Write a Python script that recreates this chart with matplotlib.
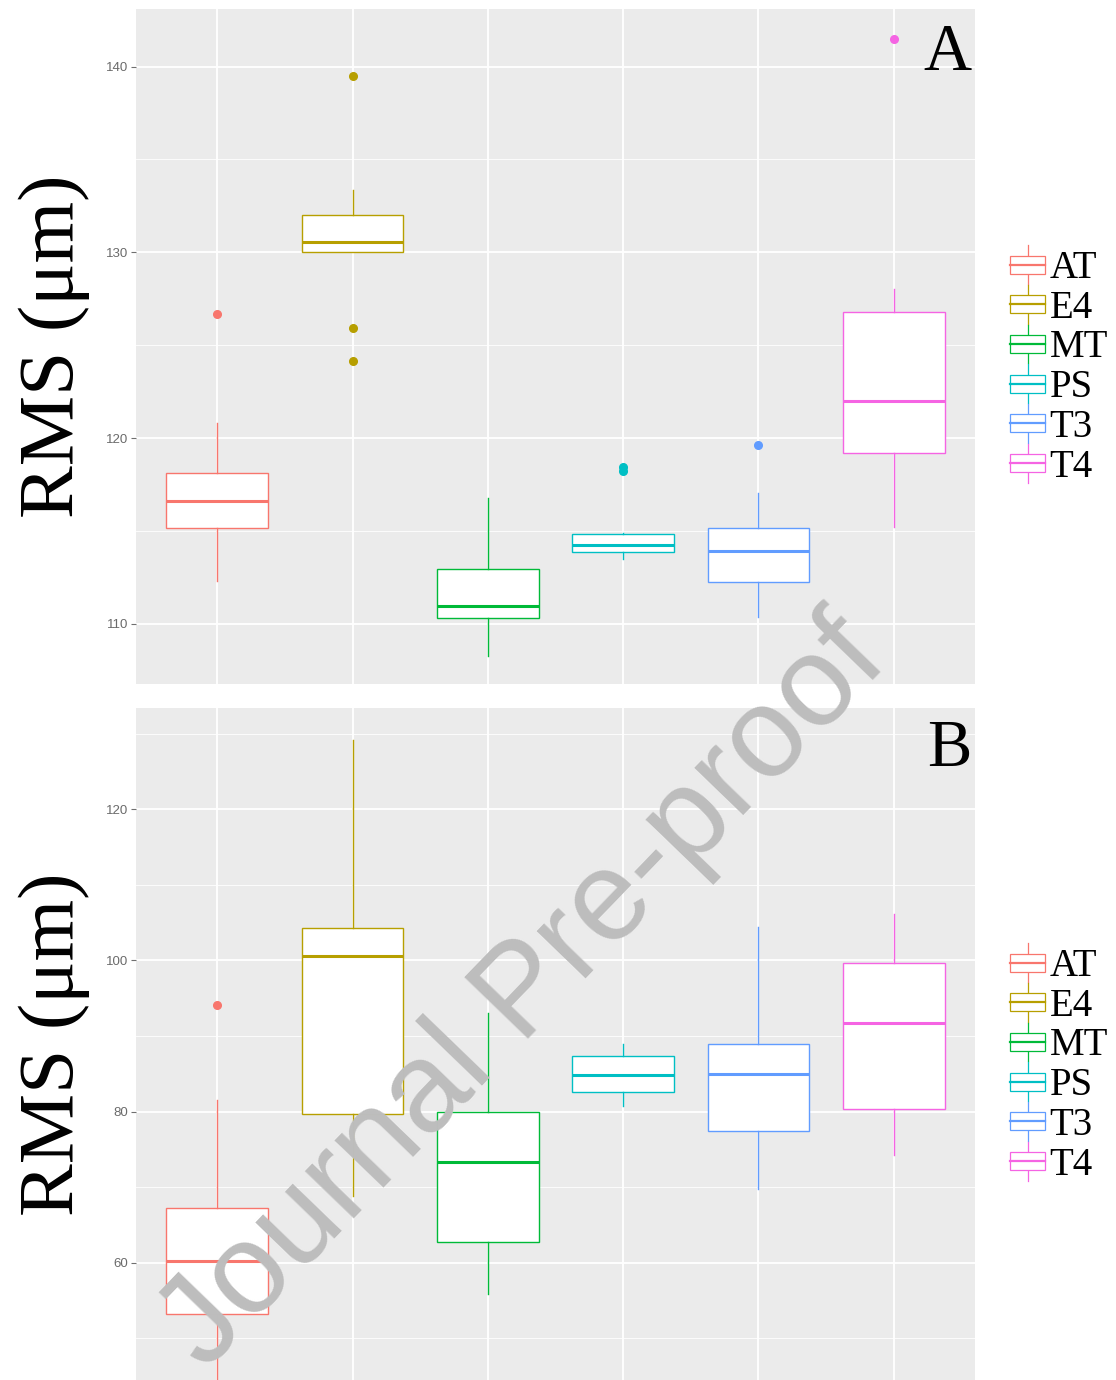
import matplotlib
matplotlib.use('Agg')
import matplotlib.pyplot as plt
from matplotlib.patches import Rectangle, Patch
from matplotlib.lines import Line2D
from matplotlib.legend_handler import HandlerBase
from matplotlib.ticker import MultipleLocator

categories = ['AT', 'E4', 'MT', 'PS', 'T3', 'T4']
colors = ['#F8766D', '#B79F00', '#00BA38', '#00BFC4', '#619CFF', '#F564E3']

# Panel A box statistics (RMS, um)
a_whislo = [112.3, 130.0, 108.3, 113.5, 110.4, 115.2]
a_q1 = [115.15, 130.0, 110.3, 113.85, 112.25, 119.2]
a_med = [116.6, 130.55, 110.95, 114.25, 113.95, 122.0]
a_q3 = [118.1, 132.0, 112.95, 114.85, 115.15, 126.8]
a_whishi = [120.8, 133.35, 116.8, 114.9, 117.05, 128.05]
a_fliers = [[126.7], [139.5, 125.95, 124.15], [], [118.25, 118.45], [119.65], [141.5]]

# Panel B box statistics (RMS, um)
b_whislo = [44.0, 68.9, 55.9, 80.7, 69.8, 74.3]
b_q1 = [53.2, 79.75, 62.7, 82.6, 77.4, 80.3]
b_med = [60.3, 100.55, 73.4, 84.8, 84.95, 91.7]
b_q3 = [67.2, 104.25, 79.9, 87.4, 89.0, 99.6]
b_whishi = [81.6, 129.2, 93.0, 89.0, 104.4, 106.2]
b_fliers = [[94.1], [], [], [], [], []]

a_ticks = [110, 120, 130, 140]
b_ticks = [60, 80, 100, 120]

W, H = 1116, 1380
fig = plt.figure(figsize=(W / 100, H / 100), dpi=100)
fig.patch.set_facecolor('white')

serif = ['Liberation Serif', 'DejaVu Serif']
sans = ['Liberation Sans', 'DejaVu Sans']


class BoxKeyHandler(HandlerBase):
    def create_artists(self, legend, orig_handle, xdescent, ydescent,
                       width, height, fontsize, trans):
        c = orig_handle.get_edgecolor()
        x0, y0 = -xdescent, -ydescent
        cx = x0 + width / 2
        arts = [
            Line2D([cx, cx], [y0 - 0.1 * height, y0 + 0.22 * height], color=c, lw=0.9, transform=trans),
            Line2D([cx, cx], [y0 + 0.78 * height, y0 + 1.1 * height], color=c, lw=0.9, transform=trans),
            Rectangle((x0, y0 + 0.22 * height), width, 0.56 * height,
                      facecolor='white', edgecolor=c, lw=0.9, transform=trans),
            Line2D([x0, x0 + width], [y0 + 0.5 * height] * 2, color=c, lw=1.6, transform=trans),
        ]
        return arts


def draw_panel(ax, whislo, q1, med, q3, whishi, fliers, ticks, minor, ylim,
               letter, letter_y, legend_y):
    stats = []
    for i, cat in enumerate(categories):
        stats.append(dict(label=cat, whislo=whislo[i], q1=q1[i], med=med[i],
                          q3=q3[i], whishi=whishi[i], fliers=fliers[i]))
    ax.set_facecolor('#EBEBEB')
    res = ax.bxp(stats, positions=range(1, len(categories) + 1), widths=0.75,
                 patch_artist=True, showcaps=False, showfliers=True, zorder=3)
    for i, c in enumerate(colors):
        b = res['boxes'][i]
        b.set_facecolor('white')
        b.set_edgecolor(c)
        b.set_linewidth(1.0)
        res['medians'][i].set_color(c)
        res['medians'][i].set_linewidth(2.2)
        for w in res['whiskers'][2 * i:2 * i + 2]:
            w.set_color(c)
            w.set_linewidth(1.0)
        f = res['fliers'][i]
        f.set_marker('o')
        f.set_markerfacecolor(c)
        f.set_markeredgecolor(c)
        f.set_markersize(5.5)
    ax.set_xlim(0.4, len(categories) + 0.6)
    ax.set_ylim(*ylim)
    ax.set_yticks(ticks)
    ax.yaxis.set_minor_locator(MultipleLocator(minor))
    ax.set_xticks(range(1, len(categories) + 1))
    ax.set_xticklabels([])
    ax.tick_params(axis='x', length=0)
    ax.tick_params(axis='y', which='major', length=3.5, width=0.8, color='#6f6f6f',
                   labelsize=9.5, labelcolor='#6a6a6a', pad=2)
    ax.tick_params(axis='y', which='minor', length=0)
    for lab in ax.get_yticklabels():
        lab.set_family(sans)
    ax.grid(True, which='major', color='white', lw=1.3, zorder=0)
    ax.grid(True, which='minor', axis='y', color='white', lw=0.6, zorder=0)
    ax.set_axisbelow(True)
    for s in ax.spines.values():
        s.set_visible(False)
    ax.set_ylabel('RMS (μm)', family=serif, fontsize=57, color='black')
    ax.yaxis.set_label_coords(-0.055, 0.5)
    ax.text(0.9964, letter_y, letter, transform=ax.transAxes, ha='right', va='baseline',
            family=serif, fontsize=48, color='black')
    handles = [Patch(edgecolor=c, facecolor='white', label=cat)
               for cat, c in zip(categories, colors)]
    fig.legend(handles=handles, loc='center left', bbox_to_anchor=(1010 / W, legend_y),
               bbox_transform=fig.transFigure, frameon=False, borderpad=0,
               borderaxespad=0, handlelength=0.9, handleheight=0.9, handletextpad=0.12,
               labelspacing=0.03, prop={'family': serif, 'size': 28},
               handler_map={Patch: BoxKeyHandler()})


axA = fig.add_axes([136 / W, 1 - 684 / H, (975 - 136) / W, (684 - 9) / H])
axB = fig.add_axes([136 / W, 0.0, (975 - 136) / W, (1380 - 708) / H])

draw_panel(axA, a_whislo, a_q1, a_med, a_q3, a_whishi, a_fliers, a_ticks, 5,
           (106.77, 143.1), 'A', 0.9096, 1 - 367 / H)
draw_panel(axB, b_whislo, b_q1, b_med, b_q3, b_whishi, b_fliers, b_ticks, 10,
           (44.5, 133.4), 'B', 0.9137, 1 - 1065 / H)

fig.text(524 / W, 1 - 995 / H, 'Journal Pre-proof', family=sans, fontsize=92,
         color='#BDBDBD', rotation=46, ha='center', va='center',
         rotation_mode='anchor', zorder=10)

fig.savefig('out.png', dpi=100)
